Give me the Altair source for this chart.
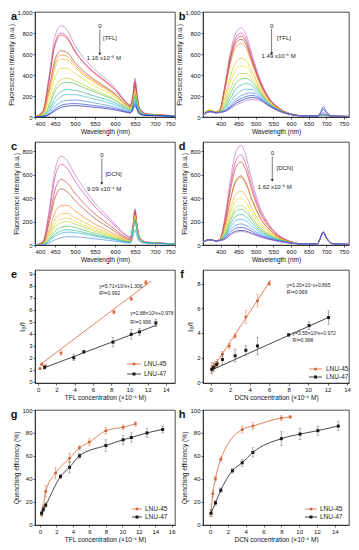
import altair as alt
import pandas as pd

FONT = "Liberation Sans"
C45 = "#d4663a"
C47 = "#1a1a1a"
INK = "#222222"

# ---------------- spectra (a-d) ----------------
WL_AC = [400, 420, 435, 450, 465, 480, 500, 525, 550, 575, 600, 625, 638, 645, 650, 655, 662, 680, 700, 750]
WL_BD = [350, 360, 372, 385, 398, 412, 428, 443, 458, 472, 490, 510, 535, 565, 600, 640, 675, 685, 692, 700, 720, 765]

A_CURVES = [
    [0, 60, 390, 770, 870, 830, 680, 550, 450, 370, 280, 160, 115, 220, 370, 220, 80, 30, 25, 10],
    [0, 55, 360, 705, 800, 765, 630, 510, 420, 345, 262, 150, 108, 205, 345, 205, 75, 28, 23, 10],
    [0, 52, 345, 685, 780, 750, 620, 500, 412, 338, 256, 147, 105, 195, 330, 195, 72, 27, 22, 10],
    [0, 40, 270, 545, 630, 615, 520, 425, 352, 290, 222, 130, 95, 180, 300, 180, 65, 25, 20, 8],
    [0, 37, 248, 505, 590, 580, 495, 405, 337, 278, 213, 125, 92, 155, 255, 155, 58, 24, 20, 8],
    [0, 34, 225, 465, 550, 545, 470, 388, 323, 268, 206, 121, 89, 150, 245, 150, 55, 24, 20, 8],
    [0, 26, 175, 380, 460, 465, 415, 350, 293, 245, 190, 113, 84, 145, 235, 145, 52, 22, 19, 8],
    [0, 18, 120, 285, 355, 370, 345, 298, 254, 214, 168, 102, 77, 140, 230, 140, 50, 22, 19, 8],
    [0, 15, 100, 245, 315, 330, 315, 275, 237, 200, 158, 97, 73, 133, 215, 133, 47, 21, 18, 7],
    [0, 11, 70, 180, 242, 260, 255, 228, 198, 170, 135, 85, 65, 118, 190, 118, 42, 20, 17, 7],
    [0, 8, 52, 140, 195, 213, 212, 193, 170, 146, 118, 76, 58, 103, 165, 103, 37, 18, 16, 6],
    [0, 6, 36, 100, 143, 158, 162, 150, 133, 116, 95, 63, 49, 93, 150, 93, 33, 17, 15, 6],
    [0, 4, 26, 74, 110, 124, 128, 120, 108, 95, 79, 54, 42, 81, 130, 81, 29, 15, 14, 5],
    [0, 3, 21, 60, 91, 104, 108, 102, 92, 82, 68, 47, 37, 69, 110, 69, 25, 14, 13, 5],
]
A_COLORS = ["#b57bd0", "#d9489a", "#e03a3a", "#a0522d", "#f08a24", "#f2b632", "#e5d835",
            "#b5d63a", "#5cc45a", "#35b59a", "#3fb6dc", "#4a8fe0", "#3553d6", "#2a2aa8"]

B_CURVES = [
    [20, 50, 60, 45, 70, 300, 620, 800, 850, 790, 590, 380, 200, 90, 30, 10, 10, 25, 30, 20, 8, 5],
    [20, 50, 60, 45, 68, 285, 585, 755, 800, 745, 560, 362, 190, 86, 29, 10, 10, 22, 26, 18, 8, 5],
    [20, 50, 60, 45, 66, 275, 565, 727, 770, 718, 540, 350, 185, 84, 28, 10, 10, 22, 25, 18, 8, 5],
    [20, 52, 62, 47, 65, 265, 543, 700, 740, 692, 522, 340, 180, 82, 28, 10, 10, 20, 24, 17, 8, 5],
    [22, 55, 65, 50, 64, 250, 513, 662, 700, 658, 500, 328, 175, 80, 27, 10, 10, 20, 24, 17, 8, 5],
    [20, 50, 60, 45, 58, 180, 390, 520, 558, 540, 430, 292, 160, 75, 26, 9, 9, 18, 22, 15, 7, 5],
    [20, 48, 58, 44, 55, 150, 330, 450, 488, 478, 393, 275, 153, 72, 25, 9, 9, 18, 22, 15, 7, 5],
    [18, 46, 56, 43, 52, 122, 268, 378, 415, 415, 355, 258, 146, 70, 25, 9, 9, 18, 22, 15, 7, 5],
    [18, 45, 55, 42, 50, 100, 222, 322, 360, 368, 328, 244, 140, 68, 25, 9, 9, 18, 22, 15, 7, 5],
    [18, 44, 54, 42, 48, 82, 178, 265, 303, 318, 298, 230, 135, 66, 24, 9, 9, 18, 22, 15, 7, 5],
    [17, 43, 53, 41, 46, 68, 140, 210, 248, 265, 262, 212, 128, 64, 24, 9, 9, 18, 22, 15, 7, 5],
    [17, 42, 52, 40, 45, 60, 112, 168, 203, 222, 230, 196, 122, 62, 24, 9, 9, 18, 22, 15, 7, 5],
    [16, 41, 51, 40, 44, 56, 98, 145, 176, 195, 205, 182, 117, 60, 23, 9, 8, 50, 100, 55, 7, 5],
    [16, 40, 50, 39, 43, 53, 88, 128, 155, 174, 185, 170, 112, 58, 23, 9, 8, 40, 75, 40, 7, 5],
    [15, 40, 50, 39, 42, 50, 78, 112, 136, 155, 165, 158, 108, 56, 22, 9, 8, 25, 45, 25, 7, 5],
]
B_COLORS = ["#b57bd0", "#d9489a", "#e03a3a", "#a0622d", "#f2b632", "#f08a24", "#e5d835", "#b5d63a",
            "#5cc45a", "#35b59a", "#3fb6dc", "#4a8fe0", "#3553d6", "#6a3fc0", "#9a5cc8"]

C_CURVES = [
    [0, 30, 290, 640, 760, 722, 600, 471, 357, 270, 180, 95, 70, 170, 310, 180, 60, 25, 20, 8],
    [0, 27, 262, 580, 690, 656, 545, 428, 324, 245, 164, 86, 64, 165, 300, 172, 58, 24, 20, 8],
    [0, 22, 213, 470, 560, 532, 442, 347, 263, 199, 133, 70, 52, 160, 290, 165, 55, 23, 19, 8],
    [0, 19, 182, 403, 480, 456, 380, 298, 226, 170, 114, 60, 45, 150, 270, 155, 52, 22, 19, 8],
    [0, 13, 125, 280, 335, 340, 290, 232, 178, 135, 92, 50, 38, 145, 260, 150, 50, 22, 18, 7],
    [0, 10, 98, 220, 265, 270, 235, 190, 148, 113, 78, 43, 33, 140, 250, 145, 48, 21, 18, 7],
    [0, 8, 80, 183, 222, 230, 203, 165, 130, 100, 70, 39, 30, 135, 240, 140, 47, 21, 18, 7],
    [0, 7, 68, 155, 190, 200, 180, 148, 117, 90, 63, 36, 28, 130, 230, 133, 45, 20, 17, 7],
    [0, 5, 50, 118, 150, 160, 148, 124, 99, 77, 55, 32, 25, 122, 220, 128, 43, 20, 17, 7],
    [0, 4, 38, 92, 120, 130, 124, 105, 85, 67, 49, 29, 23, 120, 215, 125, 42, 20, 17, 7],
    [0, 3, 30, 75, 100, 110, 106, 92, 75, 60, 44, 27, 21, 117, 210, 122, 41, 19, 16, 7],
    [0, 2, 17, 44, 62, 70, 70, 63, 53, 43, 33, 21, 17, 72, 130, 75, 27, 15, 13, 5],
]
C_COLORS = ["#b57bd0", "#d9489a", "#c0504a", "#a0622d", "#f08a24", "#f2b632", "#e5d835",
            "#b5d63a", "#5cc45a", "#3fb6dc", "#4a8fe0", "#3553d6"]

D_CURVES = [
    [20, 40, 45, 35, 50, 230, 560, 790, 850, 760, 540, 340, 190, 85, 30, 8, 10, 70, 110, 65, 10, 5],
    [20, 40, 45, 35, 48, 210, 508, 716, 770, 690, 492, 312, 176, 80, 28, 8, 10, 70, 110, 65, 10, 5],
    [20, 40, 45, 35, 47, 195, 470, 660, 710, 637, 456, 290, 165, 76, 27, 8, 10, 70, 110, 65, 10, 5],
    [20, 40, 45, 35, 45, 163, 392, 550, 590, 532, 384, 248, 143, 68, 25, 8, 10, 70, 110, 65, 10, 5],
    [20, 40, 45, 35, 45, 160, 382, 536, 575, 520, 376, 243, 141, 67, 25, 8, 10, 70, 110, 65, 10, 5],
    [20, 40, 45, 35, 43, 130, 308, 430, 460, 418, 306, 202, 120, 60, 23, 8, 10, 70, 110, 65, 10, 5],
    [20, 40, 45, 35, 42, 115, 268, 375, 400, 365, 270, 180, 108, 56, 22, 8, 10, 70, 110, 65, 10, 5],
    [20, 40, 45, 35, 41, 100, 230, 320, 340, 312, 233, 158, 97, 52, 21, 8, 10, 70, 110, 65, 10, 5],
    [20, 40, 45, 35, 40, 90, 207, 287, 305, 281, 212, 145, 90, 49, 20, 8, 10, 70, 110, 65, 10, 5],
    [20, 40, 45, 35, 40, 80, 178, 245, 260, 241, 184, 128, 81, 45, 19, 8, 10, 70, 110, 65, 10, 5],
    [20, 40, 45, 35, 39, 70, 152, 208, 220, 205, 159, 113, 73, 42, 18, 8, 10, 70, 110, 65, 10, 5],
    [20, 40, 45, 35, 38, 62, 127, 170, 180, 169, 134, 97, 65, 38, 17, 8, 10, 70, 110, 65, 10, 5],
    [20, 40, 45, 35, 38, 56, 107, 142, 150, 142, 115, 85, 58, 35, 16, 8, 10, 70, 110, 65, 10, 5],
    [20, 40, 45, 35, 37, 50, 90, 118, 125, 120, 99, 75, 52, 32, 15, 8, 10, 70, 110, 65, 10, 5],
    [20, 40, 45, 35, 37, 48, 84, 109, 115, 111, 93, 71, 50, 31, 15, 8, 10, 75, 115, 68, 10, 5],
]
D_COLORS = ["#b57bd0", "#d9489a", "#e03a3a", "#a0522d", "#f08a24", "#f2b632", "#e5d835", "#b5d63a",
            "#5cc45a", "#35b59a", "#3fb6dc", "#4a8fe0", "#3553d6", "#2a2aa8", "#6a3fc0"]

# ---------------- Stern-Volmer (e, f) ----------------
E45_X = [0.2, 0.4, 0.8, 2.5, 8.3, 10.2, 11.8]
E45_Y = [1.1, 1.45, 1.3, 2.4, 5.8, 6.9, 8.25]
E45_ERR = [0.1, 0.12, 0.12, 0.2, 0.15, 0.15, 0.2]
E47_X = [0.7, 3.9, 5.0, 8.2, 10.2, 11.1, 12.9]
E47_Y = [1.2, 2.0, 2.5, 3.3, 3.95, 4.15, 4.9]
E47_ERR = [0.15, 0.25, 0.12, 0.4, 0.4, 0.3, 0.3]
E45_FIT_X = [0.2, 12.4]
E45_FIT_Y = [1.42, 8.39]
E47_FIT_X = [0.7, 13.0]
E47_FIT_Y = [1.18, 4.72]

F45_X = [0.1, 0.3, 0.5, 0.7, 1.2, 1.9, 2.5, 3.6, 4.8, 6.0]
F45_Y = [1.15, 1.3, 1.45, 1.55, 2.3, 2.95, 3.75, 5.3, 6.6, 8.0]
F45_ERR = [0.45, 0.3, 0.25, 0.3, 0.2, 0.2, 0.2, 0.5, 0.5, 0.15]
F47_X = [0.1, 0.3, 0.6, 1.2, 2.5, 3.6, 4.8, 8.0, 10.1, 12.1]
F47_Y = [1.05, 1.2, 1.45, 1.85, 2.15, 2.6, 2.95, 3.85, 4.6, 5.25]
F47_ERR = [0.3, 0.3, 0.25, 0.4, 0.5, 0.4, 0.7, 0.12, 0.3, 0.55]
F45_FIT_X = [0.05, 6.15]
F45_FIT_Y = [0.95, 8.27]
F47_FIT_X = [0.05, 12.2]
F47_FIT_Y = [0.99, 5.3]

# ---------------- quenching efficiency (g, h) ----------------
G45_X = [0.2, 0.4, 0.7, 1.9, 3.6, 4.8, 6.0, 8.0, 10.1, 11.6]
G45_Y = [9, 15, 29, 45, 58, 67, 72, 82, 85, 88]
G45_ERR = [2, 2, 5, 5, 4, 2, 3, 3, 2, 2]
G47_X = [0.2, 0.4, 0.7, 2.5, 3.6, 4.8, 8.0, 10.1, 11.1, 13.0, 14.9]
G47_Y = [10, 13, 17, 42, 50, 60, 69, 74, 76, 80, 83]
G47_ERR = [2, 2, 2, 2, 5, 2, 5, 4, 4, 4, 3]

H45_X = [0.1, 0.3, 0.6, 1.2, 3.6, 4.8, 8.0, 9.0]
H45_Y = [10, 27, 40, 57, 83, 86, 93, 94]
H45_ERR = [3, 3, 2, 2, 3, 3, 2, 1]
H47_X = [0.1, 0.6, 1.2, 2.5, 3.6, 4.8, 8.0, 10.1, 12.1, 14.4]
H47_Y = [10, 19, 30, 47, 54, 63, 75, 79, 82, 86]
H47_ERR = [3, 2, 2, 2, 3, 4, 6, 5, 4, 4]

W_L, W_R = 140, 146
H_ROWS = [105, 103, 113, 115]


def letter(ch):
    return alt.Chart(pd.DataFrame({"t": [ch]})).mark_text(
        font=FONT, fontSize=11, fontWeight="bold", align="center", baseline="middle", color="#111"
    ).encode(x=alt.value(-21), y=alt.value(5), text="t:N")


def spectra(wl, curves, colors, xdom, ydom, yticks, ann, w, h, ch):
    names = [f"s{i:02d}" for i in range(len(curves))]
    df = pd.DataFrame([{"wl": x, "I": v, "s": n} for n, c in zip(names, curves) for x, v in zip(wl, c)])
    xs = alt.Scale(domain=xdom, nice=False, zero=False)
    ys = alt.Scale(domain=ydom, nice=False)
    xax = alt.Axis(title="Wavelength (nm)", values=list(range(400, 751, 50)))
    yax = alt.Axis(title="Fluorescence intensity (a.u.)", values=yticks)

    def X(f="wl"):
        return alt.X(f"{f}:Q", scale=xs, axis=xax)

    def Y(f="I"):
        return alt.Y(f"{f}:Q", scale=ys, axis=yax)

    lines = alt.Chart(df).mark_line(strokeWidth=0.7, interpolate="monotone", clip=True).encode(
        x=X(), y=Y(), color=alt.Color("s:N", scale=alt.Scale(domain=names, range=colors), legend=None)
    )
    adf = pd.DataFrame({"wl": [ann["x"]], "I": [ann["a1"]], "I2": [ann["a2"]]})
    arrow = alt.Chart(adf).mark_rule(strokeWidth=0.6, color=INK).encode(x=X(), y=Y(), y2="I2:Q")
    tip = alt.Chart(adf).mark_point(shape="triangle-down", filled=True, size=9, color=INK, opacity=1).encode(
        x=X(), y=Y("I2"))
    zdf = pd.DataFrame({"wl": [ann["x"]], "I": [ann["zero"]], "t": ["0"]})
    zero = alt.Chart(zdf).mark_text(font=FONT, fontSize=6, color=INK, align="center", baseline="middle").encode(
        x=X(), y=Y(), text="t:N")
    ldf = pd.DataFrame({"wl": [ann["lx"]], "I": [ann["ly"]], "t": [ann["label"]]})
    lab = alt.Chart(ldf).mark_text(font=FONT, fontSize=6, color=INK, align="left", baseline="middle").encode(
        x=X(), y=Y(), text="t:N")
    cdf = pd.DataFrame({"wl": [ann["cx"]], "I": [ann["cy"]], "t": [ann["conc"]]})
    conc = alt.Chart(cdf).mark_text(font=FONT, fontSize=6, color=INK, align="center", baseline="middle").encode(
        x=X(), y=Y(), text="t:N")
    return alt.layer(lines, arrow, tip, zero, lab, conc, letter(ch)).properties(width=w, height=h)


def series_layers(series, color, shape, X, Y, smooth):
    xs_, ys_, er_, line_x, line_y = series
    df = pd.DataFrame({"c": xs_, "v": ys_, "lo": [a - b for a, b in zip(ys_, er_)],
                       "hi": [a + b for a, b in zip(ys_, er_)]})
    out = []
    if smooth:
        out.append(alt.Chart(df).mark_line(color=color, strokeWidth=0.8, interpolate="monotone").encode(
            x=X(), y=Y()))
    else:
        ldf = pd.DataFrame({"c": line_x, "v": line_y})
        out.append(alt.Chart(ldf).mark_line(color=color, strokeWidth=0.8).encode(x=X(), y=Y()))
    ecol = "#555555" if color == C47 else color
    out.append(alt.Chart(df).mark_rule(color=ecol, strokeWidth=0.5).encode(x=X(), y=Y("lo"), y2="hi:Q"))
    out.append(alt.Chart(df).mark_tick(color=ecol, orient="horizontal", size=3, thickness=0.5).encode(
        x=X(), y=Y("lo")))
    out.append(alt.Chart(df).mark_tick(color=ecol, orient="horizontal", size=3, thickness=0.5).encode(
        x=X(), y=Y("hi")))
    out.append(alt.Chart(df).mark_point(filled=True, shape=shape, size=9, color=color, opacity=1).encode(
        x=X(), y=Y()))
    return out


def legend_layers(x1, x2, xt, y1, y2):
    out = []
    for lab, col, shp, yy in [("LNU-45", C45, "circle", y1), ("LNU-47", C47, "square", y2)]:
        d = pd.DataFrame({"t": [lab]})
        out.append(alt.Chart(d).mark_rule(color=col, strokeWidth=0.8).encode(
            x=alt.value(x1), x2=alt.value(x2), y=alt.value(yy)))
        out.append(alt.Chart(d).mark_point(filled=True, shape=shp, size=9, color=col, opacity=1).encode(
            x=alt.value((x1 + x2) / 2), y=alt.value(yy)))
        out.append(alt.Chart(d).mark_text(font=FONT, fontSize=6.5, color=INK, align="left",
                                          baseline="middle").encode(
            x=alt.value(xt), y=alt.value(yy), text="t:N"))
    return out


def xy_panel(xdom, xticks, ydom, yticks, xtitle, ytitle, ytsize, s45, s47, texts, leg, w, h, ch, smooth):
    xs = alt.Scale(domain=xdom, nice=False, zero=False)
    ys = alt.Scale(domain=ydom, nice=False, zero=False)
    xax = alt.Axis(title=xtitle, values=xticks)
    yax = alt.Axis(title=ytitle, values=yticks, titleFontSize=ytsize)

    def X(f="c"):
        return alt.X(f"{f}:Q", scale=xs, axis=xax)

    def Y(f="v"):
        return alt.Y(f"{f}:Q", scale=ys, axis=yax)

    layers = []
    layers += series_layers(s45, C45, "circle", X, Y, smooth)
    layers += series_layers(s47, C47, "square", X, Y, smooth)
    for (tx, ty, tt) in texts:
        d = pd.DataFrame({"c": [tx], "v": [ty], "t": [tt]})
        layers.append(alt.Chart(d).mark_text(font=FONT, fontSize=5, color=INK, align="left",
                                             baseline="middle").encode(x=X(), y=Y(), text="t:N"))
    layers += legend_layers(*leg)
    layers.append(letter(ch))
    return alt.layer(*layers).properties(width=w, height=h)


pa = spectra(WL_AC, A_CURVES, A_COLORS, [400, 750], [0, 1000], [0, 200, 400, 600, 800, 1000],
             dict(x=562, a1=835, a2=600, zero=862, lx=570, ly=755, label="[TFL]", cx=572, cy=562,
                  conc="1.16 x10\u207b\u2075 M"), W_L, H_ROWS[0], "a")
pb = spectra(WL_BD, B_CURVES, B_COLORS, [350, 765], [0, 1000], [0, 200, 400, 600, 800, 1000],
             dict(x=545, a1=840, a2=604, zero=868, lx=560, ly=755, label="[TFL]", cx=565, cy=578,
                  conc="1.49 x10\u207b\u2075 M"), W_R, H_ROWS[0], "b")
pc = spectra(WL_AC, C_CURVES, C_COLORS, [400, 750], [0, 880], [0, 200, 400, 600, 800],
             dict(x=567, a1=740, a2=525, zero=765, lx=576, ly=608, label="[DCN]", cx=573, cy=480,
                  conc="9.09 x10\u207b\u2074 M"), W_L, H_ROWS[1], "c")
pd_ = spectra(WL_BD, D_CURVES, D_COLORS, [350, 765], [0, 880], [0, 200, 400, 600, 800],
              dict(x=547, a1=757, a2=553, zero=785, lx=559, ly=654, label="[DCN]", cx=554, cy=495,
                   conc="1.62 x10\u207b\u2075 M"), W_R, H_ROWS[1], "d")

pe = xy_panel([-0.35, 15], list(range(0, 15, 2)), [-0.1, 9.3], list(range(0, 10)),
              "TFL concentration (\u00d710\u207b\u2074 M)", "I\u2080/I", 8,
              (E45_X, E45_Y, E45_ERR, E45_FIT_X, E45_FIT_Y), (E47_X, E47_Y, E47_ERR, E47_FIT_X, E47_FIT_Y),
              [(6.7, 8.0, "y=5.71\u00d710\u00b3x+1.306"), (6.7, 7.4, "R\u00b2=0.992"),
               (10.1, 5.7, "y=2.88\u00d710\u00b3x+0.978"), (10.1, 5.0, "R\u00b2=0.996")],
              (92, 106, 109, 94, 104), W_L, H_ROWS[2], "e", False)
pf = xy_panel([-0.8, 14.2], list(range(0, 15, 2)), [-0.05, 9.1], [0, 2, 4, 6, 8],
              "DCN concentration (\u00d710\u207b\u2074 M)", "I\u2080/I", 8,
              (F45_X, F45_Y, F45_ERR, F45_FIT_X, F45_FIT_Y), (F47_X, F47_Y, F47_ERR, F47_FIT_X, F47_FIT_Y),
              [(7.8, 7.9, "y=1.20\u00d710\u2074x+0.895"), (7.8, 7.35, "R\u00b2=0.999"),
               (8.4, 4.0, "y=3.55\u00d710\u00b3x+0.972"), (8.4, 3.4, "R\u00b2=0.998")],
              (106, 119, 123, 99, 107), W_R, H_ROWS[2], "f", False)
pg = xy_panel([-0.6, 16.4], list(range(0, 17, 2)), [-0.3, 100], [0, 20, 40, 60, 80, 100],
              "TFL concentration (\u00d710\u207b\u2074 M)", "Quenching efficiency (%)", 6.5,
              (G45_X, G45_Y, G45_ERR, None, None), (G47_X, G47_Y, G47_ERR, None, None), [],
              (97, 107, 110, 99, 107), W_L, H_ROWS[3], "g", True)
ph = xy_panel([-0.8, 15.6], list(range(0, 15, 2)), [-0.3, 100], [0, 20, 40, 60, 80, 100],
              "DCN concentration (\u00d710\u207b\u2074 M)", "Quenching efficiency (%)", 6.5,
              (H45_X, H45_Y, H45_ERR, None, None), (H47_X, H47_Y, H47_ERR, None, None), [],
              (102, 114, 117, 99, 107), W_R, H_ROWS[3], "h", True)


def row(left, right):
    return alt.hconcat(left, right, spacing=28, bounds="flush")


chart = alt.vconcat(row(pa, pb), row(pc, pd_), row(pe, pf), row(pg, ph), spacing=5).properties(
    padding={"left": 0, "right": 0, "top": 0, "bottom": 0}
).configure_axis(
    labelFont=FONT, titleFont=FONT, labelFontSize=6, titleFontSize=6.5, tickSize=2,
    labelPadding=1, titlePadding=2, grid=False, domainColor="#000", tickColor="#000",
    domainWidth=0.6, tickWidth=0.6, labelColor="#111", titleColor="#111", titleFontWeight="normal"
).configure_view(stroke="#000", strokeWidth=0.7)

chart.save("out.html", embed_options={"renderer": "svg", "actions": False})
